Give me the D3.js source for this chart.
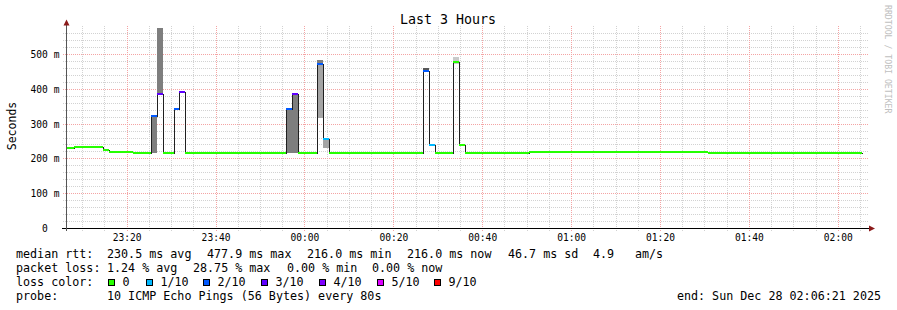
<!DOCTYPE html>
<html>
<head>
<meta charset="utf-8">
<script src="https://cdn.jsdelivr.net/npm/d3@7"></script>
<style>
  body { margin: 0; background: #fff; }
  svg text { font-family: "DejaVu Sans Mono", monospace; }
</style>
</head>
<body>
<svg id="chart" width="897" height="310"></svg>
<script>
// graph window
const graphStart = "2025-12-27 23:06:21";
const graphEnd = "2025-12-28 02:06:21";
const yMax = 574.7; // ms, top of canvas

// median rtt, one entry per run of equal 80 s samples
const runEdges = [
  "2025-12-27 23:06:30", "2025-12-27 23:08:09", "2025-12-27 23:14:36", "2025-12-27 23:15:57",
  "2025-12-27 23:21:21", "2025-12-27 23:25:24", "2025-12-27 23:26:43", "2025-12-27 23:28:04",
  "2025-12-27 23:30:44", "2025-12-27 23:31:51", "2025-12-27 23:33:12", "2025-12-27 23:55:55",
  "2025-12-27 23:57:16", "2025-12-27 23:58:37", "2025-12-28 00:02:43", "2025-12-28 00:04:05",
  "2025-12-28 00:05:26", "2025-12-28 00:26:34", "2025-12-28 00:27:55", "2025-12-28 00:29:16",
  "2025-12-28 00:33:19", "2025-12-28 00:34:40", "2025-12-28 00:36:01", "2025-12-28 00:50:36",
  "2025-12-28 01:30:44", "2025-12-28 02:05:23"
];
const medianMs = [229, 233, 225, 219, 216, 323, 385, 216, 342, 390, 216, 342, 385, 216, 472, 256, 216, 450, 238, 216, 477.9, 239, 216, 218, 216];
const lossPings = [0, 0, 0, 0, 0, 2, 3, 0, 2, 3, 0, 2, 3, 0, 2, 1, 0, 2, 1, 0, 0, 0, 0, 0, 0];

// smoke (spread of the 10 pings), rank 1 = outermost pair
const smokeStart = ["2025-12-27 23:25:24", "2025-12-27 23:26:43", "2025-12-27 23:55:55", "2025-12-27 23:57:16",
  "2025-12-28 00:02:43", "2025-12-28 00:02:43", "2025-12-28 00:04:05", "2025-12-28 00:26:34", "2025-12-28 00:33:19"];
const smokeEnd = ["2025-12-27 23:26:43", "2025-12-27 23:28:04", "2025-12-27 23:57:16", "2025-12-27 23:58:37",
  "2025-12-28 00:04:05", "2025-12-28 00:04:05", "2025-12-28 00:05:26", "2025-12-28 00:27:55", "2025-12-28 00:34:40"];
const smokeLo = [216, 385, 216, 216, 315, 472, 231, 450, 472];
const smokeHi = [323, 574.7, 342, 385, 483, 483, 256, 460, 491];
const smokeRank = [3, 3, 3, 3, 2, 3, 2, 4, 1];

// legend
const lossLabels = ["0", "1/10", "2/10", "3/10", "4/10", "5/10", "9/10"];
const lossColors = ["#26ff00", "#00b8ff", "#0059ff", "#5e00ff", "#7e00ff", "#dd00ff", "#ff0000"];
const rttStats = ["230.5 ms avg", "477.9 ms max", "216.0 ms min", "216.0 ms now", "46.7 ms sd", "4.9", "am/s"];
const lossStats = ["1.24 % avg", "28.75 % max", "0.00 % min", "0.00 % now"];
const probeText = "10 ICMP Echo Pings (56 Bytes) every 80s";
const endText = "end: Sun Dec 28 02:06:21 2025";

const parseTime = d3.timeParse("%Y-%m-%d %H:%M:%S");
const svg = d3.select("#chart");
const plotLeft = 66, plotTop = 28, plotW = 800, plotH = 200;

const x = d3.scaleTime()
  .domain([parseTime(graphStart), parseTime(graphEnd)])
  .range([plotLeft, plotLeft + plotW]);
const y = d3.scaleLinear()
  .domain([0, yMax])
  .range([plotTop + plotH, plotTop]);

// loss -> colour, thresholds like smokeping's (last, loss]
const lossColor = d3.scaleThreshold().domain([1, 2, 3, 4, 5, 6]).range(lossColors);
// smoke grey: int(190/5*(5-rank))+50
const smokeGrey = d3.scaleLinear().domain([1, 5]).range([202, 50]);
const grey = r => { const v = Math.floor(smokeGrey(r)); return d3.rgb(v, v, v); };

svg.append("rect").attr("width", 897).attr("height", 310).attr("fill", "#fff");

// Grid
const minorX = x.ticks(d3.timeMinute.every(5)).filter(d => d.getMinutes() % 20 !== 0);
const majorX = x.ticks(d3.timeMinute.every(20));
const minorY = d3.range(20, yMax, 20).filter(v => v % 100 !== 0);
const majorY = d3.range(100, yMax, 100);

function grid(g, color) {
  g.attr("shape-rendering", "crispEdges");
  g.select(".domain").remove();
  g.selectAll(".tick line").attr("stroke", color).attr("stroke-dasharray", "1,1");
}
svg.append("g").attr("transform", "translate(0,231)")
  .call(d3.axisBottom(x).tickValues(minorX).tickSize(-205).tickFormat(""))
  .call(grid, "#d2d2d2");
svg.append("g").attr("transform", "translate(63,0)")
  .call(d3.axisLeft(y).tickValues(minorY).tickSize(-806).tickFormat(""))
  .call(grid, "#d2d2d2");
svg.append("g").attr("transform", "translate(0,231)")
  .call(d3.axisBottom(x).tickValues(majorX).tickSize(-205).tickFormat(""))
  .call(grid, "#f4a4a4");
svg.append("g").attr("transform", "translate(63,0)")
  .call(d3.axisLeft(y).tickValues(majorY).tickSize(-806).tickFormat(""))
  .call(grid, "#f4a4a4");

// Plot contents
svg.append("clipPath").attr("id", "plot")
  .append("rect").attr("x", plotLeft).attr("y", plotTop).attr("width", plotW).attr("height", plotH);
const plot = svg.append("g").attr("clip-path", "url(#plot)").attr("shape-rendering", "crispEdges");

// smoke
plot.selectAll("rect.smoke")
  .data(d3.range(smokeStart.length).sort((a, b) => smokeRank[a] - smokeRank[b]))
  .enter().append("rect")
  .attr("class", "smoke")
  .attr("x", i => Math.round(x(parseTime(smokeStart[i]))))
  .attr("width", i => Math.round(x(parseTime(smokeEnd[i]))) - Math.round(x(parseTime(smokeStart[i]))))
  .attr("y", i => Math.round(y(smokeHi[i])))
  .attr("height", i => Math.round(y(smokeLo[i])) - Math.round(y(smokeHi[i])))
  .attr("fill", i => grey(smokeRank[i]));

// black median step line
const stepPts = medianMs.map((m, i) => [parseTime(runEdges[i]), m]);
stepPts.push([parseTime(runEdges[runEdges.length - 1]), medianMs[medianMs.length - 1]]);
const medLine = d3.line()
  .x(d => Math.round(x(d[0])) + 0.5)
  .y(d => Math.round(y(d[1])) + 0.5)
  .curve(d3.curveStepAfter);
plot.append("path")
  .datum(stepPts)
  .attr("d", medLine)
  .attr("fill", "none")
  .attr("stroke", "#202020")
  .attr("stroke-width", 1);

// loss-coloured median bands
plot.selectAll("rect.median")
  .data(medianMs)
  .enter().append("rect")
  .attr("class", "median")
  .attr("x", (d, i) => Math.round(x(parseTime(runEdges[i]))))
  .attr("width", (d, i) => Math.round(x(parseTime(runEdges[i + 1]))) - Math.round(x(parseTime(runEdges[i]))))
  .attr("y", d => Math.round(y(d)) - 1)
  .attr("height", 2)
  .attr("fill", (d, i) => lossColor(lossPings[i]));

// Axes
const axisG = svg.append("g").attr("shape-rendering", "crispEdges");
axisG.append("line").attr("x1", 62).attr("x2", 870).attr("y1", 228.5).attr("y2", 228.5).attr("stroke", "#000");
axisG.append("line").attr("x1", 66.5).attr("x2", 66.5).attr("y1", 231).attr("y2", 24).attr("stroke", "#555");
svg.append("path").attr("d", "M869,225.5L875,228.5L869,231.5Z").attr("fill", "#8b1a1a");
svg.append("path").attr("d", "M63.5,25.5L66.5,19.5L69.5,25.5Z").attr("fill", "#8b1a1a");

const xLabels = svg.append("g").attr("transform", "translate(0,228)")
  .call(d3.axisBottom(x).tickValues(majorX).tickFormat(d3.timeFormat("%H:%M")).tickSize(0));
xLabels.select(".domain").remove();
xLabels.selectAll("text").attr("y", 12.5).attr("dy", 0)
  .attr("font-size", "9.6px").attr("fill", "#000")
  .attr("font-family", "DejaVu Sans Mono");

const yLabels = svg.append("g").attr("transform", "translate(45,0)")
  .call(d3.axisLeft(y).tickValues(d3.range(0, yMax, 100)).tickFormat(v => v === 0 ? "0" : v + " m").tickSize(0));
yLabels.select(".domain").remove();
yLabels.selectAll("text").attr("x", 0).attr("dy", "0.36em").attr("text-anchor", "middle")
  .attr("font-size", "9.6px").attr("fill", "#000")
  .attr("font-family", "DejaVu Sans Mono");

// Titles
svg.append("text").attr("x", 448).attr("y", 24).attr("text-anchor", "middle")
  .attr("font-size", "13.3px").text("Last 3 Hours");
svg.append("text").attr("transform", "translate(16,126) rotate(-90)").attr("text-anchor", "middle")
  .attr("font-size", "11.5px").text("Seconds");
svg.append("text").attr("transform", "translate(885,5) rotate(90)")
  .attr("font-size", "8.2px").attr("fill", "#c0c0c0").text("RRDTOOL / TOBI OETIKER");

// Legend
const fs = "11.7px";
const leg = svg.append("g").attr("font-size", fs).attr("fill", "#000");
const rowY = [258, 272, 286, 300];
leg.append("text").attr("x", 16).attr("y", rowY[0]).text("median rtt:");
leg.append("text").attr("x", 16).attr("y", rowY[1]).text("packet loss:");
leg.append("text").attr("x", 16).attr("y", rowY[2]).text("loss color:");
leg.append("text").attr("x", 16).attr("y", rowY[3]).text("probe:");

const rttX = [107, 207, 307, 407, 508, 593, 635];
leg.selectAll("text.rtt").data(rttStats).enter().append("text")
  .attr("x", (d, i) => rttX[i]).attr("y", rowY[0]).text(d => d);
const lossX = [107, 193, 287, 372];
leg.selectAll("text.loss").data(lossStats).enter().append("text")
  .attr("x", (d, i) => lossX[i]).attr("y", rowY[1]).text(d => d);

const boxX = [108, 146, 203, 261, 319, 377, 434];
leg.selectAll("rect.lc").data(lossLabels).enter().append("rect")
  .attr("x", (d, i) => boxX[i] + 0.5).attr("y", 279.5).attr("width", 6).attr("height", 6)
  .attr("fill", (d, i) => lossColors[i]).attr("stroke", "#000").attr("stroke-width", 1);
leg.selectAll("text.lc").data(lossLabels).enter().append("text")
  .attr("x", (d, i) => boxX[i] + 14.5).attr("y", rowY[2]).text(d => d);

leg.append("text").attr("x", 107).attr("y", rowY[3]).text(probeText);
leg.append("text").attr("x", 881).attr("y", rowY[3]).attr("text-anchor", "end").text(endText);
</script>
</body>
</html>
